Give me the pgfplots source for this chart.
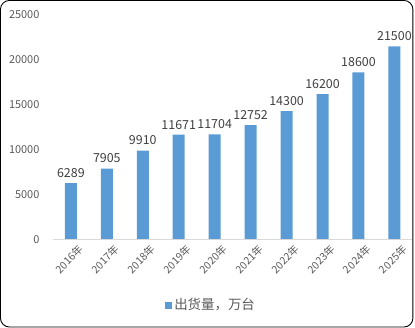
\documentclass[border=0pt]{standalone}
\usepackage{pgfplots}
\pgfplotsset{compat=1.18}
\usepackage{fontspec}
\setmainfont{Noto Sans CJK SC}
\definecolor{barblue}{HTML}{5B9BD5}
\definecolor{txtgray}{HTML}{595959}
\definecolor{lblgray}{HTML}{404040}
\definecolor{axgray}{HTML}{D9D9D9}
\begin{document}
\begin{tikzpicture}[x=1bp,y=1bp]
\draw[black, line width=0.9bp, rounded corners=9bp] (0.5,0.5) rectangle (413.5,327.5);
\begin{axis}[
  at={(53bp,88bp)}, anchor=south west,
  width=360bp, height=225bp, scale only axis,
  xmin=-0.5, xmax=9.5, ymin=0, ymax=25000,
  ytick={0,5000,10000,15000,20000,25000},
  xtick={0,...,9},
  xticklabels={2016年,2017年,2018年,2019年,2020年,2021年,2022年,2023年,2024年,2025年},
  x tick label style={rotate=45, anchor=north east, font=\fontsize{10.5}{13}\selectfont, text=txtgray, inner sep=1bp, xshift=3bp, yshift=-7bp},
  y tick label style={font=\fontsize{11}{13}\selectfont, text=txtgray, xshift=-10bp},
  /pgf/number format/1000 sep={},
  /pgf/number format/assume math mode=true,
  scaled ticks=false,
  axis lines*=left,
  axis line style={draw=none},
  major tick length=0pt,
  ybar, bar width=12bp,
  nodes near coords,
  every node near coord/.append style={font=\fontsize{12.5}{14}\selectfont, text=lblgray, yshift=2bp, /pgf/number format/1000 sep={}, /pgf/number format/assume math mode=true},
  legend style={at={(0.44,-0.289)}, anchor=center, draw=none, fill=none, font=\fontsize{13.5}{15}\selectfont, text=txtgray, /tikz/every even column/.append style={column sep=0bp}},
  legend image code/.code={\fill[barblue] (2bp,-4bp) rectangle (9bp,3bp);},
  clip=false,
]
\addplot[fill=barblue, draw=none] coordinates {
(0,6289) (1,7905) (2,9910) (3,11671) (4,11704) (5,12752) (6,14300) (7,16200) (8,18600) (9,21500)};
\addlegendentry{出货量，万台}
\draw[axgray, line width=0.8bp] (axis cs:-0.5,0) -- (axis cs:9.5,0);
\end{axis}
\end{tikzpicture}
\end{document}
